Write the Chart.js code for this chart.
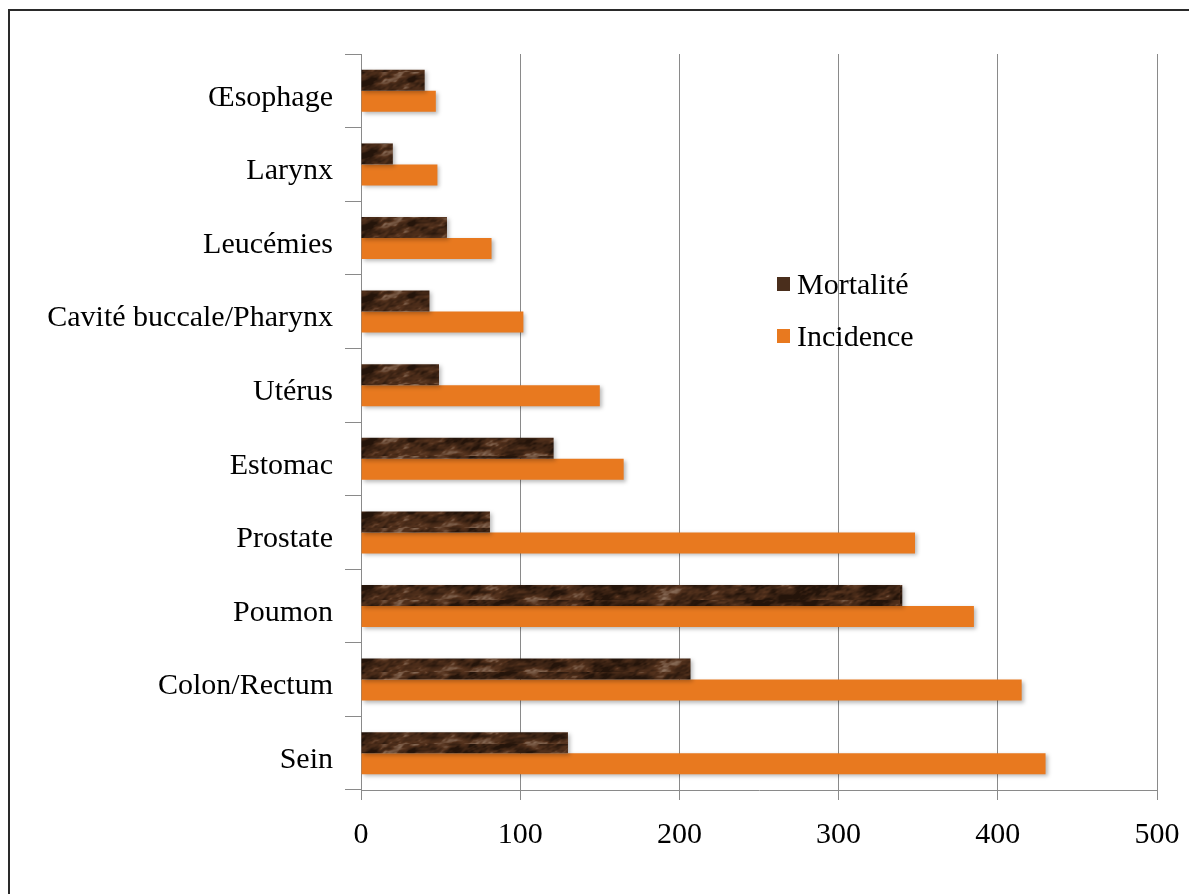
<!DOCTYPE html>
<html>
<head>
<meta charset="utf-8">
<script src="https://cdn.jsdelivr.net/npm/chart.js@4"></script>
<style>
  html, body { margin:0; padding:0; background:#fff; overflow:hidden; }
  #wrap { position:relative; width:1189px; height:894px; }
  #frame { position:absolute; left:8px; top:9px; width:1300px; height:1000px;
           border-left:2px solid #2a2a2a; border-top:2px solid #2a2a2a; pointer-events:none; }
  canvas { position:absolute; left:0; top:0; }
</style>
</head>
<body>
<div id="wrap">
  <canvas id="c" width="1189" height="894"></canvas>
  <div id="frame"></div>
</div>
<script>
// ---- data ----
const categories = ['Œsophage', 'Larynx', 'Leucémies', 'Cavité buccale/Pharynx', 'Utérus',
                    'Estomac', 'Prostate', 'Poumon', 'Colon/Rectum', 'Sein'];
const mortalite = [40, 20, 54, 43, 49, 121, 81, 340, 207, 130];
const incidence = [47, 48, 82, 102, 150, 165, 348, 385, 415, 430];
const xTicks = [0, 100, 200, 300, 400, 500];
const seriesNames = ['Mortalité', 'Incidence'];

// ---- textured fill for mortality bars (deterministic value-noise marble) ----
function hash(ix, iy) {
  const s = Math.sin(ix * 127.1 + iy * 311.7) * 43758.5453;
  return s - Math.floor(s);
}
function vnoise(x, y) {
  const ix = Math.floor(x), iy = Math.floor(y);
  const fx = x - ix, fy = y - iy;
  const ux = fx * fx * (3 - 2 * fx), uy = fy * fy * (3 - 2 * fy);
  const a = hash(ix, iy), b = hash(ix + 1, iy), c = hash(ix, iy + 1), d = hash(ix + 1, iy + 1);
  return a + (b - a) * ux + (c - a) * uy + (a - b - c + d) * ux * uy;
}
function lerp(a, b, t) { return a + (b - a) * t; }
function makeTexture() {
  const w = 900, h = 24;
  const cv = document.createElement('canvas');
  cv.width = w; cv.height = h;
  const g = cv.getContext('2d');
  const img = g.createImageData(w, h);
  const dark = [36, 20, 10], mid = [84, 50, 29], light = [140, 112, 92];
  for (let y = 0; y < h; y++) {
    for (let x = 0; x < w; x++) {
      const sx = x + y * 0.8;
      let v = 0.45 * vnoise(sx / 22, y / 8)
            + 0.33 * vnoise(sx / 8 + 40, y / 4 + 7)
            + 0.22 * vnoise(sx / 3 + 90, y / 2.2 + 3);
      v = Math.max(0, Math.min(1, (v - 0.3) * 1.8));
      let col;
      if (v < 0.6) { const t = v / 0.6; col = [lerp(dark[0], mid[0], t), lerp(dark[1], mid[1], t), lerp(dark[2], mid[2], t)]; }
      else { const t = (v - 0.6) / 0.4; col = [lerp(mid[0], light[0], t), lerp(mid[1], light[1], t), lerp(mid[2], light[2], t)]; }
      const i = (y * w + x) * 4;
      img.data[i] = col[0]; img.data[i + 1] = col[1]; img.data[i + 2] = col[2];
      img.data[i + 3] = 255;
    }
  }
  g.putImageData(img, 0, 0);
  return cv;
}
const ctx = document.getElementById('c').getContext('2d');
const texturePattern = ctx.createPattern(makeTexture(), 'repeat');

const FONT = "'Liberation Serif', 'Times New Roman', serif";
const GRID = '#8a8a8a';

const shadowPlugin = {
  id: 'barShadow',
  beforeDatasetsDraw(chart) {
    const c = chart.ctx;
    c.save();
    c.shadowColor = 'rgba(0,0,0,0.28)';
    c.shadowBlur = 4;
    c.shadowOffsetX = 2;
    c.shadowOffsetY = 2;
  },
  afterDatasetsDraw(chart) { chart.ctx.restore(); }
};

const legendPlugin = {
  id: 'innerLegend',
  afterDraw(chart) {
    const c = chart.ctx;
    const swatch = ['#4a2e1c', '#E8791F'];
    c.save();
    c.font = '30px ' + FONT;
    c.textBaseline = 'middle';
    chart.data.datasets.forEach((ds, i) => {
      const y = 284 + i * 52;
      c.fillStyle = swatch[i];
      c.fillRect(777, y - 7, 13, 14);
      c.fillStyle = '#000';
      c.fillText(ds.label, 797, y + 2);
    });
    c.restore();
  }
};

new Chart(ctx, {
  type: 'bar',
  data: {
    labels: categories,
    datasets: [
      { label: seriesNames[0], data: mortalite, backgroundColor: texturePattern,
        borderWidth: 0, barPercentage: 1.0, categoryPercentage: 0.57 },
      { label: seriesNames[1], data: incidence, backgroundColor: '#E8791F',
        borderWidth: 0, barPercentage: 1.0, categoryPercentage: 0.57 }
    ]
  },
  options: {
    indexAxis: 'y',
    responsive: false,
    animation: false,
    layout: { padding: { left: 0, top: 54, right: 32, bottom: 0 } },
    plugins: { legend: { display: false }, tooltip: { enabled: false } },
    scales: {
      x: {
        min: 0, max: 500,
        afterBuildTicks(scale) { scale.ticks = xTicks.map(v => ({ value: v })); },
        afterFit(scale) { scale.height = 104; scale.paddingLeft = 0; scale.paddingRight = 0; },
        grid: { color: GRID, lineWidth: 1, drawTicks: true, tickLength: 10, tickColor: GRID },
        border: { color: GRID, width: 1 },
        ticks: { color: '#000', font: { family: FONT, size: 30 }, padding: 17, maxRotation: 0 }
      },
      y: {
        afterFit(scale) { scale.width = 361; scale.paddingTop = 0; scale.paddingBottom = 0; },
        grid: { drawOnChartArea: false, drawTicks: true, tickLength: 16, tickColor: GRID, offset: true },
        border: { color: GRID, width: 1 },
        ticks: { color: '#000', font: { family: FONT, size: 30 }, padding: 12, autoSkip: false, labelOffset: 7 }
      }
    }
  },
  plugins: [shadowPlugin, legendPlugin]
});
</script>
</body>
</html>
